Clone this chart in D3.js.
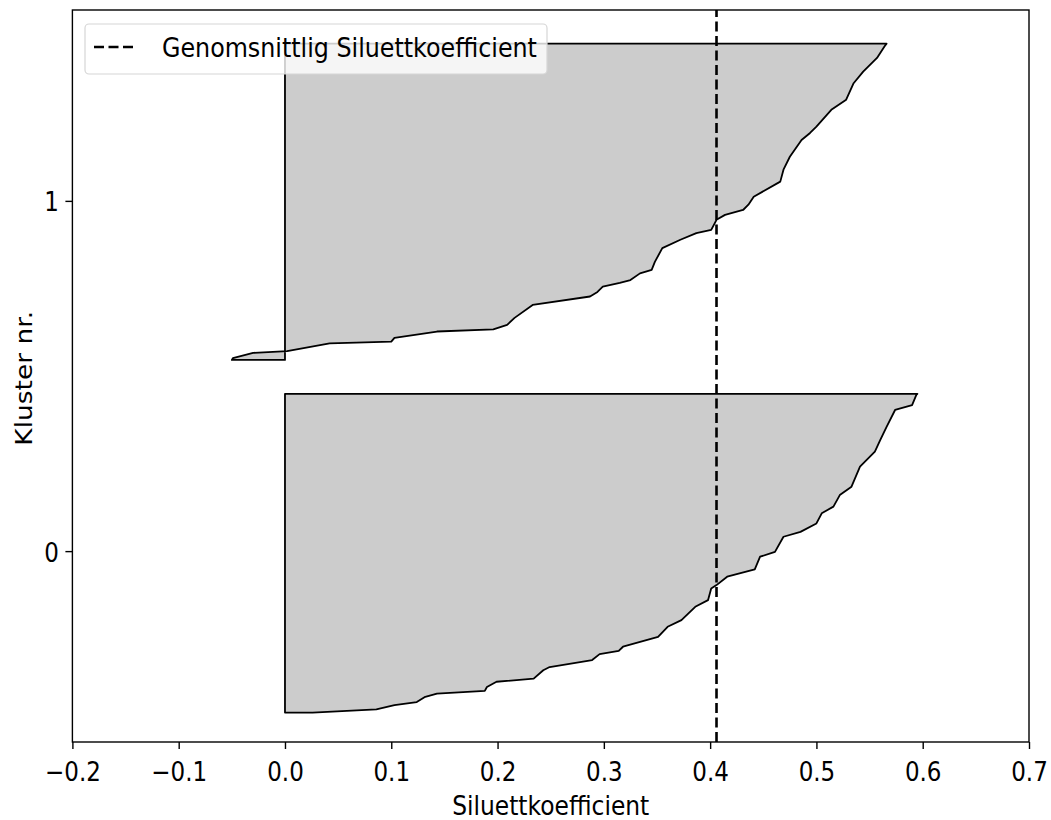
<!DOCTYPE html>
<html>
<head>
<meta charset="utf-8">
<script src="https://cdn.jsdelivr.net/npm/d3@7"></script>
<style>
  html, body { margin: 0; padding: 0; background: #fff; }
  svg text { font-family: "DejaVu Sans", sans-serif; fill: #000; }
</style>
</head>
<body>
<svg id="chart" width="1051" height="820"></svg>
<script>
// ---- Data ----
const xTicks = [-0.2, -0.1, 0.0, 0.1, 0.2, 0.3, 0.4, 0.5, 0.6, 0.7];
const clusterLabels = [0, 1];
const meanSilhouette = 0.406;
const legendLabel = "Genomsnittlig Siluettkoefficient";
const xLabel = "Siluettkoefficient";
const yLabel = "Kluster nr.";

// cluster 0: sorted silhouette values (bottom -> top)
const cluster0Y = [-0.461, -0.461, -0.452, -0.440, -0.431, -0.416, -0.407, -0.399, -0.388, -0.373,
  -0.364, -0.340, -0.331, -0.311, -0.294, -0.285, -0.273, -0.245, -0.216, -0.197, -0.159, -0.140,
  -0.107, -0.097, -0.073, -0.052, -0.016, -0.002, 0.041, 0.055, 0.079, 0.108, 0.127, 0.160, 0.184,
  0.241, 0.284, 0.317, 0.355, 0.403, 0.417, 0.446, 0.449];
const cluster0Values = [0.000, 0.026, 0.086, 0.103, 0.124, 0.132, 0.143, 0.188, 0.190, 0.199,
  0.234, 0.243, 0.249, 0.289, 0.296, 0.314, 0.318, 0.351, 0.360, 0.373, 0.386, 0.398,
  0.401, 0.406, 0.416, 0.442, 0.447, 0.461, 0.469, 0.485, 0.500, 0.505, 0.516, 0.522, 0.533,
  0.541, 0.555, 0.560, 0.566, 0.574, 0.590, 0.594, 0.595];

// cluster 1
const cluster1Y = [0.546, 0.551, 0.566, 0.571, 0.593, 0.598, 0.609, 0.627, 0.633, 0.646, 0.666,
  0.703, 0.727, 0.740, 0.755, 0.766, 0.774, 0.793, 0.803, 0.826, 0.865, 0.889, 0.908, 0.917,
  0.946, 0.960, 0.974, 0.989, 1.012, 1.055, 1.089, 1.126, 1.174, 1.194, 1.212, 1.260, 1.289,
  1.336, 1.369, 1.408, 1.441, 1.449];
const cluster1Values = [-0.050, -0.049, -0.030, 0.002, 0.042, 0.100, 0.103, 0.143, 0.196, 0.209, 0.216,
  0.233, 0.287, 0.294, 0.299, 0.315, 0.325, 0.334, 0.345, 0.348, 0.355, 0.372, 0.387, 0.401,
  0.406, 0.414, 0.431, 0.436, 0.441, 0.466, 0.469, 0.475, 0.486, 0.494, 0.500, 0.514, 0.528,
  0.535, 0.544, 0.557, 0.564, 0.566];

// ---- Layout ----
const FS = 23;       // font size
const SY = 1.13;     // vertical stretch of text
const pLeft = 72.4, pRight = 1029, pTop = 10, pBottom = 742;

const svg = d3.select("#chart");
const x = d3.scaleLinear().domain([-0.2, 0.7]).range([pLeft, pRight]);
const y = d3.scaleLinear().domain([-0.545, 1.545]).range([pBottom, pTop]);

const clusters = [
  { ys: cluster0Y, vs: cluster0Values },
  { ys: cluster1Y, vs: cluster1Values }
];

const area = d3.area()
  .x0(() => x(0))
  .x1(d => x(d.v))
  .y(d => y(d.y));

svg.append("g").selectAll("path")
  .data(clusters)
  .join("path")
  .attr("d", c => area(c.ys.map((yy, i) => ({ y: yy, v: c.vs[i] }))) )
  .attr("fill", "#cccccc")
  .attr("stroke", "#000")
  .attr("stroke-width", 1.8)
  .attr("stroke-linejoin", "round");

// mean line
svg.append("line")
  .attr("x1", x(meanSilhouette)).attr("x2", x(meanSilhouette))
  .attr("y1", y(-0.545)).attr("y2", y(1.545))
  .attr("stroke", "#000")
  .attr("stroke-width", 2.6)
  .attr("stroke-dasharray", "10,4.5");

// frame
svg.append("rect")
  .attr("x", pLeft).attr("y", pTop)
  .attr("width", pRight - pLeft).attr("height", pBottom - pTop)
  .attr("fill", "none").attr("stroke", "#000").attr("stroke-width", 1.4);

// x axis
const gx = svg.append("g").attr("transform", `translate(0,${pBottom})`)
  .call(d3.axisBottom(x).tickValues(xTicks).tickSize(7).tickSizeOuter(0)
    .tickFormat(d => d3.format(".1f")(d).replace("-", "\u2212")));
gx.select(".domain").remove();
gx.selectAll(".tick line").attr("stroke", "#000").attr("stroke-width", 1.4);
gx.selectAll(".tick text")
  .attr("y", 0).attr("dy", 0)
  .attr("font-size", FS)
  .attr("transform", `translate(0,38.7) scale(1,${SY})`);

// y axis
const gy = svg.append("g").attr("transform", `translate(${pLeft},0)`)
  .call(d3.axisLeft(y).tickValues(clusterLabels).tickSize(7).tickSizeOuter(0)
    .tickFormat(d3.format("d")));
gy.select(".domain").remove();
gy.selectAll(".tick line").attr("stroke", "#000").attr("stroke-width", 1.4);
gy.selectAll(".tick text")
  .attr("x", 0).attr("dy", 0).attr("y", 0)
  .attr("font-size", FS)
  .attr("text-anchor", "end")
  .attr("transform", `translate(-13.5,10) scale(1,${SY})`);

// axis labels
svg.append("text")
  .attr("transform", `translate(${(pLeft + pRight) / 2},814.5) scale(1,${SY})`)
  .attr("text-anchor", "middle")
  .attr("font-size", 23.4)
  .text(xLabel);

svg.append("text")
  .attr("transform", `translate(31.5,378.3) scale(1,${SY}) rotate(-90)`)
  .attr("text-anchor", "middle")
  .attr("font-size", 23.4)
  .text(yLabel);

// legend
const lg = svg.append("g");
lg.append("rect")
  .attr("x", 85).attr("y", 24).attr("width", 462).attr("height", 50)
  .attr("rx", 4).attr("ry", 4)
  .attr("fill", "#fff").attr("fill-opacity", 0.8)
  .attr("stroke", "#d6d6d6").attr("stroke-width", 1.2);
lg.append("line")
  .attr("x1", 94).attr("x2", 134).attr("y1", 47).attr("y2", 47)
  .attr("stroke", "#000").attr("stroke-width", 2.6)
  .attr("stroke-dasharray", "10,4.5");
lg.append("text")
  .attr("transform", `translate(162,57) scale(1,${SY})`)
  .attr("font-size", 23.8)
  .text(legendLabel);
</script>
</body>
</html>
